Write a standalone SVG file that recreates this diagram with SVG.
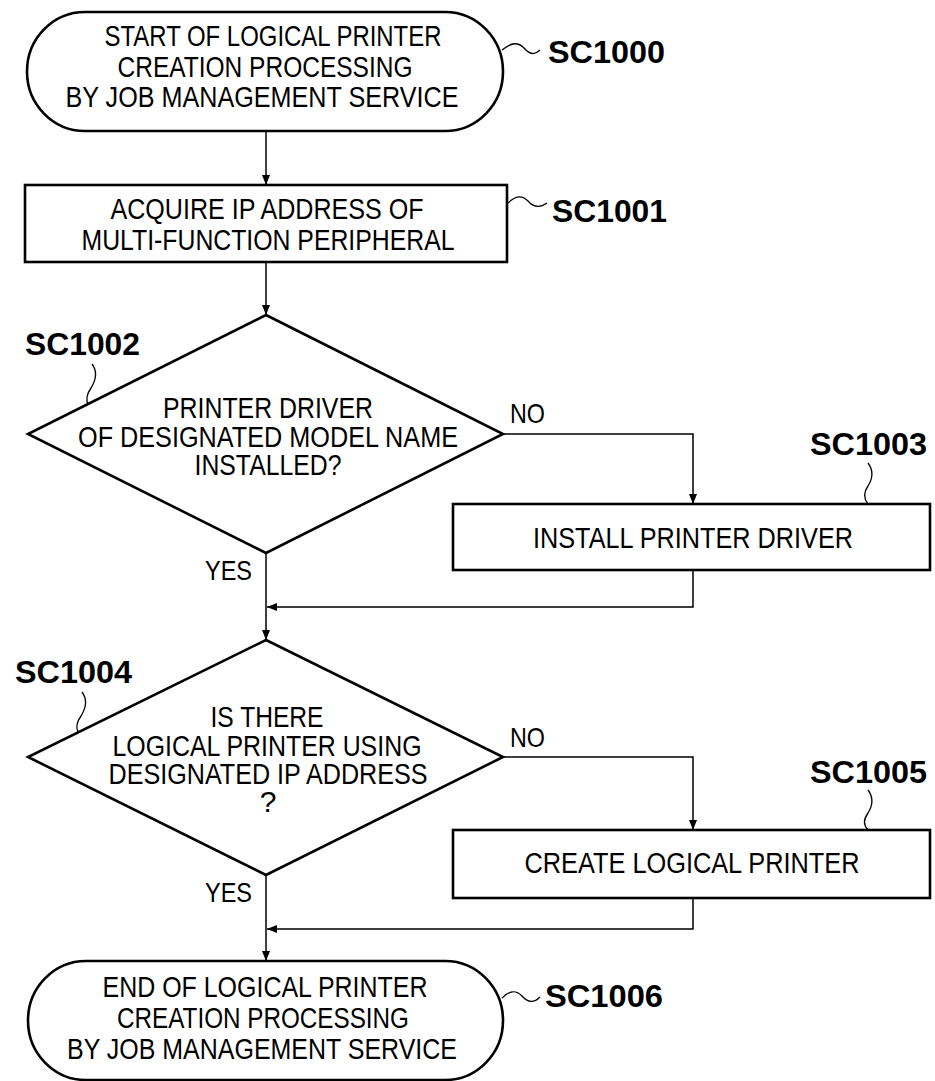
<svg xmlns="http://www.w3.org/2000/svg" width="935" height="1081" viewBox="0 0 935 1081">
<defs>
<marker id="arr" viewBox="0 0 10 10" refX="10" refY="5" markerWidth="10" markerHeight="10" markerUnits="userSpaceOnUse" orient="auto">
<path d="M0,1 L10,5 L0,9 Z" fill="#000"/>
</marker>
<style>
.shape{fill:#fff;stroke:#000;stroke-width:2.6}
.t{font-family:"Liberation Sans",Arial,sans-serif;font-size:30px;fill:#000;text-anchor:middle}
.l{font-family:"Liberation Sans",Arial,sans-serif;font-size:32px;font-weight:bold;fill:#000}
.yn{font-family:"Liberation Sans",Arial,sans-serif;font-size:28px;fill:#000}
.c{fill:none;stroke:#000;stroke-width:1.5}
.sq{fill:none;stroke:#000;stroke-width:1.3}
</style>
</defs>
<rect width="935" height="1081" fill="#fff"/>

<g id="connectors">
<path class="c" d="M266,132 V185" marker-end="url(#arr)"/>
<path class="c" d="M266,262 V315" marker-end="url(#arr)"/>
<path class="c" d="M503,434 H693 V504" marker-end="url(#arr)"/>
<path class="c" d="M266,553 V640" marker-end="url(#arr)"/>
<path class="c" d="M693,570 V607 H267" marker-end="url(#arr)"/>
<path class="c" d="M503,757 H693 V830" marker-end="url(#arr)"/>
<path class="c" d="M266,875 V961" marker-end="url(#arr)"/>
<path class="c" d="M693,898 V929 H267" marker-end="url(#arr)"/>
<text class="yn" x="510" y="423" textLength="35" lengthAdjust="spacingAndGlyphs">NO</text>
<text class="yn" x="205" y="580" textLength="47" lengthAdjust="spacingAndGlyphs">YES</text>
<text class="yn" x="510" y="747" textLength="35" lengthAdjust="spacingAndGlyphs">NO</text>
<text class="yn" x="205" y="902" textLength="47" lengthAdjust="spacingAndGlyphs">YES</text>
</g>

<g id="SC1000">
<rect class="shape" x="27" y="12" width="476" height="119" rx="58" ry="59.5"/>
<text class="t" x="273" y="46" textLength="337" lengthAdjust="spacingAndGlyphs">START OF LOGICAL PRINTER</text>
<text class="t" x="265" y="77" textLength="295" lengthAdjust="spacingAndGlyphs">CREATION PROCESSING</text>
<text class="t" x="262" y="107" textLength="393" lengthAdjust="spacingAndGlyphs">BY JOB MANAGEMENT SERVICE</text>
<path class="sq" d="M502,50 C512,42 518,42 524,48 C530,55 535,55 540,50"/>
<text class="l" x="548" y="63" textLength="117" lengthAdjust="spacingAndGlyphs">SC1000</text>
</g>

<g id="SC1001">
<rect class="shape" x="25" y="185" width="482" height="77"/>
<text class="t" x="267" y="219" textLength="313" lengthAdjust="spacingAndGlyphs">ACQUIRE IP ADDRESS OF</text>
<text class="t" x="268" y="250" textLength="373" lengthAdjust="spacingAndGlyphs">MULTI-FUNCTION PERIPHERAL</text>
<path class="sq" d="M507,204 C516,195 522,195 528,201 C534,208 540,208 547,203"/>
<text class="l" x="552" y="222" textLength="115" lengthAdjust="spacingAndGlyphs">SC1001</text>
</g>

<g id="SC1002">
<polygon class="shape" points="266,315 503,434 266,553 28,434"/>
<text class="t" x="268" y="418" textLength="210" lengthAdjust="spacingAndGlyphs">PRINTER DRIVER</text>
<text class="t" x="268" y="447" textLength="380" lengthAdjust="spacingAndGlyphs">OF DESIGNATED MODEL NAME</text>
<text class="t" x="268" y="475" textLength="147" lengthAdjust="spacingAndGlyphs">INSTALLED?</text>
<path class="sq" d="M92,364 C98,372 96,380 91,388 C86,395 86,400 88,405"/>
<text class="l" x="25" y="355" textLength="115" lengthAdjust="spacingAndGlyphs">SC1002</text>
</g>

<g id="SC1003">
<rect class="shape" x="453" y="504" width="477" height="66"/>
<text class="t" x="693" y="548" textLength="320" lengthAdjust="spacingAndGlyphs">INSTALL PRINTER DRIVER</text>
<path class="sq" d="M868,463 C874,471 873,478 868,486 C863,493 864,499 868,504"/>
<text class="l" x="810" y="455" textLength="117" lengthAdjust="spacingAndGlyphs">SC1003</text>
</g>

<g id="SC1004">
<polygon class="shape" points="266,640 503,757 266,875 28,757"/>
<text class="t" x="267" y="727" textLength="113" lengthAdjust="spacingAndGlyphs">IS THERE</text>
<text class="t" x="267" y="756" textLength="309" lengthAdjust="spacingAndGlyphs">LOGICAL PRINTER USING</text>
<text class="t" x="268" y="784" textLength="319" lengthAdjust="spacingAndGlyphs">DESIGNATED IP ADDRESS</text>
<text class="t" x="268" y="812">?</text>
<path class="sq" d="M82,692 C88,700 86,708 81,716 C76,723 76,728 78,732"/>
<text class="l" x="15" y="683" textLength="117" lengthAdjust="spacingAndGlyphs">SC1004</text>
</g>

<g id="SC1005">
<rect class="shape" x="453" y="830" width="477" height="68"/>
<text class="t" x="692" y="873" textLength="335" lengthAdjust="spacingAndGlyphs">CREATE LOGICAL PRINTER</text>
<path class="sq" d="M868,790 C874,798 873,805 868,813 C863,820 864,826 868,830"/>
<text class="l" x="810" y="783" textLength="117" lengthAdjust="spacingAndGlyphs">SC1005</text>
</g>

<g id="SC1006">
<rect class="shape" x="28" y="961" width="475" height="119" rx="58" ry="59.5"/>
<text class="t" x="265" y="997" textLength="325" lengthAdjust="spacingAndGlyphs">END OF LOGICAL PRINTER</text>
<text class="t" x="263" y="1028" textLength="292" lengthAdjust="spacingAndGlyphs">CREATION PROCESSING</text>
<text class="t" x="262" y="1059" textLength="390" lengthAdjust="spacingAndGlyphs">BY JOB MANAGEMENT SERVICE</text>
<path class="sq" d="M502,998 C510,990 516,990 522,996 C528,1003 534,1003 540,997"/>
<text class="l" x="545" y="1007" textLength="118" lengthAdjust="spacingAndGlyphs">SC1006</text>
</g>
</svg>
